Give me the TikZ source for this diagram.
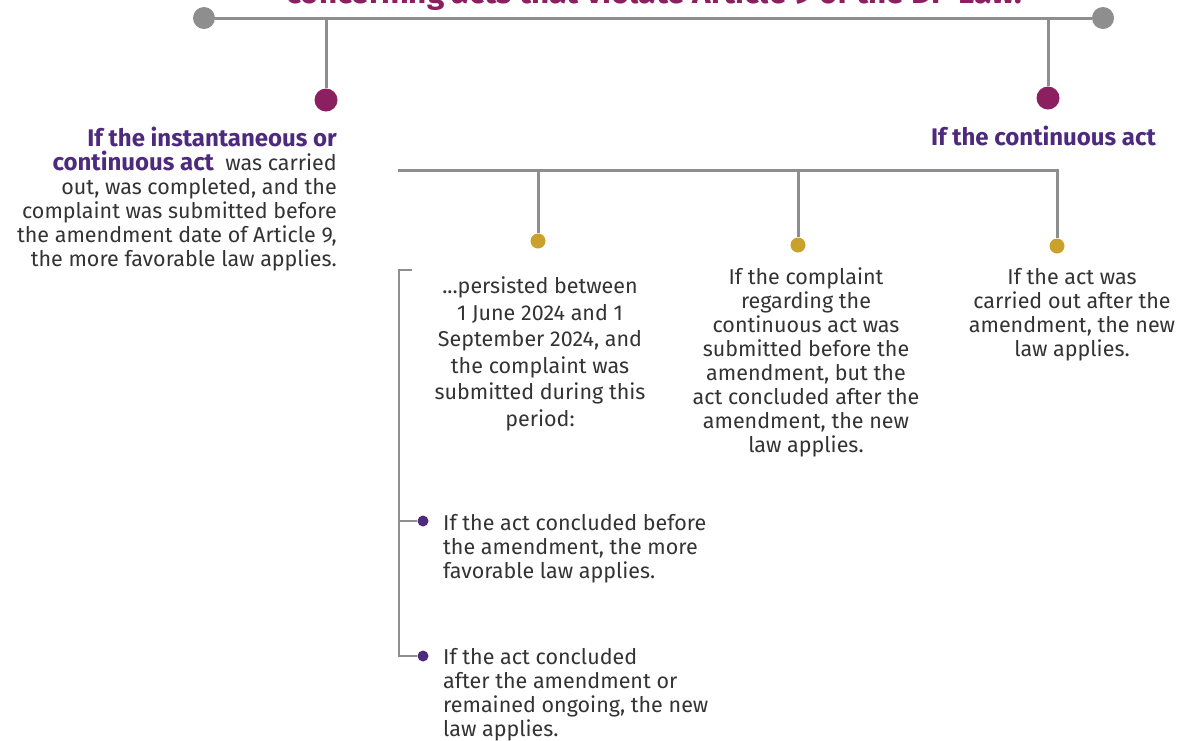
\documentclass[tikz,border=0pt]{standalone}
\usepackage{fontspec}
\setmainfont{Fira Sans}
\usetikzlibrary{positioning}
\definecolor{linegray}{HTML}{8E8E8E}
\definecolor{berry}{HTML}{8B1F5F}
\definecolor{ochre}{HTML}{C9A12B}
\definecolor{plum}{HTML}{4E2A7E}
\definecolor{ink}{HTML}{333333}
\tikzset{
  branch/.style={draw=linegray, line width=3pt},
  bracket/.style={draw=linegray, line width=2.6pt},
  enddot/.style={circle, fill=linegray, minimum size=22pt, inner sep=0pt},
  headdot/.style={circle, fill=berry, minimum size=23pt, inner sep=0pt},
  casedot/.style={circle, fill=ochre, minimum size=15pt, inner sep=0pt},
  subdot/.style={circle, fill=plum, minimum size=11pt, inner sep=0pt},
  casetext/.style={text=ink, inner sep=0pt, font=\fontsize{21.5}{24}\selectfont},
  headtext/.style={text=plum, inner sep=0pt, font=\bfseries\fontsize{24}{24}\selectfont},
  titletext/.style={text=berry, inner sep=0pt, font=\bfseries\fontsize{31.5}{34}\selectfont}
}
\newcommand{\headbit}[1]{{\color{plum}\bfseries\fontsize{24}{24}\selectfont #1}}

\begin{document}
\begin{tikzpicture}[x=1pt, y=-1pt]
  \useasboundingbox (0,0) rectangle (1180,740);
  \clip (0,0) rectangle (1180,740);

  % title and top bar
  \node[titletext, anchor=base] (title) at (654,3) {concerning acts that violate Article 9 of the DP Law.};
  \node[enddot] (lend) at (204,18) {};
  \node[enddot] (rend) at (1103,18) {};
  \draw[branch] (lend) -- (rend);

  \coordinate (lj) at (326,18);
  \coordinate (rj) at (1048,18);
  \node[headdot] (lhead) at (326,100) {};
  \node[headdot] (rhead) at (1048,98) {};
  \draw[branch] (lj) -- (lhead);
  \draw[branch] (rj) -- (rhead);

  \node[casetext, anchor=north east, align=right] (instant) at (337,127)
    {\headbit{If the instantaneous or}\\
     \headbit{continuous act}\ \ was carried\\
     out, was completed, and the\\
     complaint was submitted before\\
     the amendment date of Article 9,\\
     the more favorable law applies.};
  \node[headtext, anchor=north east] (contact) at (1156,126) {If the continuous act};

  % second bar
  \coordinate (barstart) at (398,170);
  \coordinate (barend) at (1057,170);
  \coordinate (c1j) at (538,170);
  \coordinate (c2j) at (798,170);
  \node[casedot] (c1dot) at (538,241) {};
  \node[casedot] (c2dot) at (798,245) {};
  \node[casedot] (c3dot) at (1057,246) {};
  \draw[branch] (barstart) -- (barend) -- (c3dot);
  \draw[branch] (c1j) -- (c1dot);
  \draw[branch] (c2j) -- (c2dot);

  \node[casetext, anchor=north, align=center, font=\fontsize{21.5}{26.5}\selectfont] (persist) at (540,277)
    {...persisted between\\ 1 June 2024 and 1\\ September 2024, and\\ the complaint was\\ submitted during this\\ period:};
  \node[casetext, anchor=north, align=center] (before) at (806,268)
    {If the complaint\\ regarding the\\ continuous act was\\ submitted before the\\ amendment, but the\\ act concluded after the\\ amendment, the new\\ law applies.};
  \node[casetext, anchor=north, align=center] (after) at (1072,268)
    {If the act was\\ carried out after the\\ amendment, the new\\ law applies.};

  % bracket with the two sub cases
  \coordinate (brtop) at (412,270);
  \coordinate (brcorner) at (399,270);
  \coordinate (brmid) at (399,521);
  \coordinate (brbot) at (399,656);
  \node[subdot] (s1dot) at (423,521) {};
  \node[subdot] (s2dot) at (423,656) {};
  \draw[bracket] (brtop) -- (brcorner) -- (brbot) -- (s2dot);
  \draw[bracket] (brmid) -- (s1dot);

  \node[casetext, anchor=north west, align=left] (endbefore) at (443,514)
    {If the act concluded before\\ the amendment, the more\\ favorable law applies.};
  \node[casetext, anchor=north west, align=left] (endafter) at (443,648)
    {If the act concluded\\ after the amendment or\\ remained ongoing, the new\\ law applies.};
\end{tikzpicture}
\end{document}
